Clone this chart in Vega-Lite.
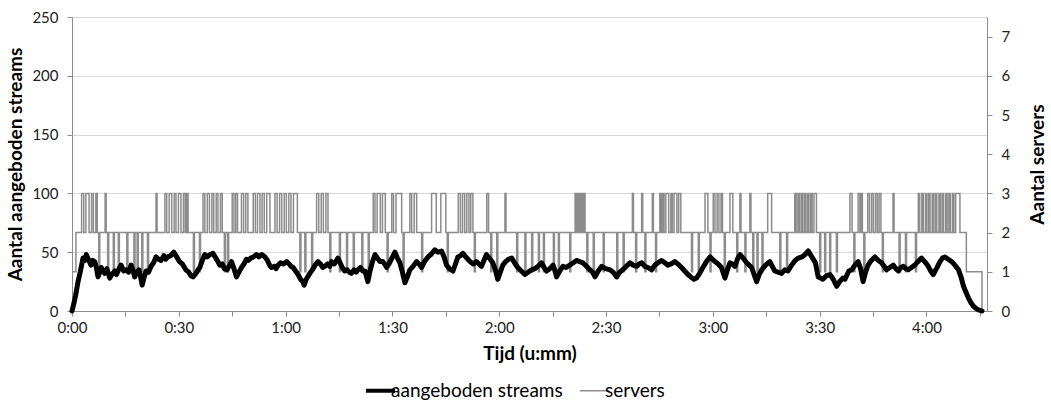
{
  "$schema": "https://vega.github.io/schema/vega-lite/v6.json",
  "width": 915,
  "height": 294,
  "autosize": {"type": "none"},
  "padding": {"left": 72, "top": 17, "right": 64, "bottom": 90},
  "background": "white",
  "config": {
    "font": "Lato",
    "view": {"stroke": null},
    "axis": {
      "labelFont": "Lato",
      "labelFontSize": 15,
      "labelColor": "#222222",
      "titleFont": "Lato",
      "titleFontSize": 19,
      "titleFontWeight": "bold",
      "titleColor": "#000000",
      "domainColor": "#8c8c8c",
      "tickColor": "#8c8c8c",
      "gridColor": "#d9d9d9",
      "tickSize": 5
    }
  },
  "datasets": {
    "streams": [
      {"t":0,"v":0},{"t":0.5,"v":6},{"t":1,"v":13},{"t":1.7,"v":25},{"t":2.3,"v":33},{"t":3.1,"v":45},{"t":3.6,"v":43},{"t":4,"v":48},{"t":4.6,"v":44},{"t":5.3,"v":39},{"t":5.8,"v":43},{"t":6.4,"v":42},{"t":6.9,"v":36},{"t":7.3,"v":29},{"t":7.8,"v":33},{"t":8.2,"v":37},{"t":8.7,"v":34},{"t":9.2,"v":32},{"t":9.8,"v":36},{"t":10.6,"v":28},{"t":11.2,"v":31},{"t":12,"v":34},{"t":12.5,"v":31},{"t":13.2,"v":36},{"t":13.8,"v":39},{"t":14.5,"v":34},{"t":15.2,"v":35},{"t":15.9,"v":33},{"t":16.6,"v":39},{"t":17.1,"v":35},{"t":17.6,"v":29},{"t":18.2,"v":33},{"t":18.8,"v":35},{"t":19.2,"v":30},{"t":19.7,"v":22},{"t":20.2,"v":28},{"t":20.8,"v":34},{"t":21.5,"v":33},{"t":22.2,"v":38},{"t":22.9,"v":41},{"t":23.6,"v":46},{"t":24.3,"v":44},{"t":25,"v":43},{"t":25.8,"v":47},{"t":26.3,"v":44},{"t":26.9,"v":46},{"t":27.7,"v":47},{"t":28.6,"v":50},{"t":29.4,"v":46},{"t":30.2,"v":42},{"t":31,"v":40},{"t":32,"v":35},{"t":32.8,"v":33},{"t":33.4,"v":30},{"t":34,"v":29},{"t":34.8,"v":32},{"t":35.4,"v":35},{"t":35.9,"v":37},{"t":36.6,"v":43},{"t":37.3,"v":48},{"t":38,"v":46},{"t":38.8,"v":48},{"t":39.6,"v":49},{"t":40.4,"v":45},{"t":41,"v":42},{"t":41.5,"v":39},{"t":42.2,"v":40},{"t":42.8,"v":36},{"t":43.5,"v":35},{"t":44.1,"v":38},{"t":44.8,"v":42},{"t":45.5,"v":36},{"t":46.2,"v":29},{"t":46.9,"v":33},{"t":47.6,"v":37},{"t":48.3,"v":40},{"t":49,"v":44},{"t":49.5,"v":43},{"t":50.2,"v":45},{"t":51,"v":46},{"t":51.8,"v":48},{"t":52.5,"v":46},{"t":53.3,"v":48},{"t":54.2,"v":46},{"t":54.9,"v":43},{"t":55.5,"v":39},{"t":56,"v":37},{"t":56.8,"v":38},{"t":57.3,"v":36},{"t":57.9,"v":39},{"t":58.6,"v":41},{"t":59.4,"v":40},{"t":60.3,"v":42},{"t":61,"v":40},{"t":61.5,"v":38},{"t":62.1,"v":37},{"t":62.8,"v":34},{"t":63.5,"v":31},{"t":64.2,"v":27},{"t":64.8,"v":25},{"t":65.2,"v":22},{"t":65.8,"v":27},{"t":66.8,"v":32},{"t":67.5,"v":35},{"t":68.3,"v":39},{"t":69.1,"v":42},{"t":69.8,"v":40},{"t":70.4,"v":37},{"t":71,"v":38},{"t":71.8,"v":40},{"t":72.4,"v":38},{"t":72.9,"v":42},{"t":73.7,"v":40},{"t":74.7,"v":45},{"t":75.3,"v":41},{"t":75.9,"v":37},{"t":76.6,"v":34},{"t":77.3,"v":35},{"t":77.9,"v":33},{"t":78.5,"v":32},{"t":79.2,"v":35},{"t":79.8,"v":33},{"t":80.3,"v":35},{"t":81,"v":37},{"t":81.7,"v":34},{"t":82.3,"v":34},{"t":83.1,"v":25},{"t":83.7,"v":34},{"t":84.4,"v":42},{"t":85.1,"v":48},{"t":85.8,"v":45},{"t":86.5,"v":42},{"t":87.3,"v":42},{"t":88,"v":39},{"t":88.4,"v":37},{"t":89,"v":40},{"t":89.7,"v":44},{"t":90.7,"v":50},{"t":91.4,"v":45},{"t":92.1,"v":41},{"t":92.8,"v":33},{"t":93.5,"v":24},{"t":94.2,"v":29},{"t":94.9,"v":35},{"t":95.8,"v":38},{"t":96.8,"v":42},{"t":97.5,"v":40},{"t":98.2,"v":37},{"t":99,"v":42},{"t":100,"v":46},{"t":100.8,"v":48},{"t":101.9,"v":52},{"t":102.8,"v":50},{"t":103.8,"v":51},{"t":104.5,"v":46},{"t":105.2,"v":39},{"t":106,"v":36},{"t":107,"v":34},{"t":107.7,"v":40},{"t":108.4,"v":46},{"t":109.1,"v":47},{"t":109.8,"v":49},{"t":110.6,"v":46},{"t":111.2,"v":44},{"t":111.8,"v":42},{"t":112.7,"v":40},{"t":113.6,"v":42},{"t":114.3,"v":40},{"t":115,"v":38},{"t":115.7,"v":43},{"t":116.4,"v":48},{"t":117.2,"v":45},{"t":118.2,"v":41},{"t":118.9,"v":35},{"t":119.6,"v":27},{"t":120.3,"v":33},{"t":121,"v":39},{"t":121.8,"v":42},{"t":122.6,"v":44},{"t":123.5,"v":45},{"t":124.3,"v":41},{"t":125.2,"v":37},{"t":126.2,"v":34},{"t":127.2,"v":31},{"t":128.1,"v":33},{"t":129.1,"v":35},{"t":130,"v":36},{"t":130.9,"v":38},{"t":131.9,"v":41},{"t":132.6,"v":37},{"t":133.3,"v":34},{"t":134.2,"v":36},{"t":135.1,"v":39},{"t":135.6,"v":35},{"t":136.1,"v":29},{"t":137,"v":34},{"t":137.9,"v":38},{"t":138.8,"v":37},{"t":139.8,"v":39},{"t":140.8,"v":41},{"t":141.7,"v":43},{"t":142.6,"v":42},{"t":143.5,"v":41},{"t":144.5,"v":38},{"t":145.5,"v":35},{"t":146.2,"v":33},{"t":146.9,"v":29},{"t":147.8,"v":34},{"t":148.8,"v":38},{"t":149.9,"v":36},{"t":151.1,"v":35},{"t":152,"v":33},{"t":153,"v":29},{"t":153.8,"v":33},{"t":154.7,"v":35},{"t":155.7,"v":38},{"t":156.7,"v":41},{"t":157.6,"v":39},{"t":158.6,"v":38},{"t":159.3,"v":40},{"t":160,"v":41},{"t":160.9,"v":38},{"t":161.8,"v":37},{"t":162.8,"v":35},{"t":163.7,"v":39},{"t":164.6,"v":41},{"t":165.6,"v":43},{"t":166.5,"v":41},{"t":167.4,"v":39},{"t":168.3,"v":40},{"t":169.3,"v":42},{"t":170.2,"v":40},{"t":171.2,"v":37},{"t":172.1,"v":34},{"t":173,"v":31},{"t":173.8,"v":29},{"t":174.7,"v":27},{"t":175.4,"v":28},{"t":176.3,"v":32},{"t":177.2,"v":37},{"t":178.2,"v":42},{"t":179.2,"v":46},{"t":179.9,"v":44},{"t":180.6,"v":42},{"t":181.5,"v":40},{"t":182.4,"v":37},{"t":183.4,"v":28},{"t":184.1,"v":35},{"t":184.8,"v":41},{"t":185.5,"v":40},{"t":186.2,"v":38},{"t":186.9,"v":44},{"t":187.6,"v":48},{"t":188.5,"v":45},{"t":189.5,"v":41},{"t":190.2,"v":39},{"t":190.9,"v":37},{"t":191.6,"v":31},{"t":192.3,"v":25},{"t":193,"v":31},{"t":193.7,"v":35},{"t":194.8,"v":39},{"t":196,"v":42},{"t":196.7,"v":38},{"t":197.4,"v":34},{"t":198.3,"v":33},{"t":199.3,"v":32},{"t":200.2,"v":35},{"t":201.1,"v":34},{"t":202.1,"v":39},{"t":203.1,"v":43},{"t":204,"v":45},{"t":205,"v":46},{"t":205.9,"v":48},{"t":206.8,"v":51},{"t":207.8,"v":46},{"t":208.8,"v":41},{"t":209.6,"v":29},{"t":210.3,"v":28},{"t":210.9,"v":27},{"t":211.9,"v":30},{"t":212.9,"v":31},{"t":213.8,"v":27},{"t":214.8,"v":21},{"t":215.6,"v":25},{"t":216.5,"v":28},{"t":217.1,"v":27},{"t":218.2,"v":34},{"t":219,"v":35},{"t":219.9,"v":39},{"t":220.8,"v":42},{"t":221.5,"v":36},{"t":222.2,"v":25},{"t":222.9,"v":33},{"t":223.6,"v":39},{"t":224.5,"v":43},{"t":225.5,"v":46},{"t":226.5,"v":43},{"t":227.4,"v":41},{"t":228.1,"v":38},{"t":228.8,"v":35},{"t":229.7,"v":37},{"t":230.7,"v":39},{"t":231.4,"v":36},{"t":232.1,"v":34},{"t":232.8,"v":37},{"t":233.5,"v":38},{"t":234.2,"v":36},{"t":234.9,"v":35},{"t":235.8,"v":37},{"t":236.7,"v":39},{"t":237.6,"v":42},{"t":238.6,"v":45},{"t":239.5,"v":42},{"t":240.5,"v":38},{"t":241.2,"v":34},{"t":241.9,"v":31},{"t":242.8,"v":36},{"t":243.8,"v":42},{"t":244.5,"v":45},{"t":245.2,"v":46},{"t":246.1,"v":44},{"t":247.1,"v":42},{"t":248,"v":39},{"t":249,"v":35},{"t":249.7,"v":29},{"t":250.4,"v":21},{"t":251.1,"v":16},{"t":251.8,"v":11},{"t":252.5,"v":7},{"t":253.2,"v":4},{"t":254,"v":2},{"t":254.6,"v":1},{"t":255.6,"v":0}
    ],
    "servers": [
      {"t":0,"s":1},{"t":1.1,"s":2},{"t":2.7,"s":3},{"t":3.3,"s":2},{"t":3.9,"s":3},{"t":4.8,"s":2},{"t":5.5,"s":3},{"t":6.0,"s":2},{"t":6.7,"s":3},{"t":7.1,"s":2},{"t":7.5,"s":1},{"t":7.8,"s":2},
      {"t":9.3,"s":3},{"t":9.6,"s":2},{"t":10.0,"s":1},{"t":10.3,"s":2},{"t":11.6,"s":1},{"t":11.9,"s":2},{"t":13,"s":1},{"t":13.3,"s":2},{"t":15.4,"s":1},{"t":15.7,"s":2},{"t":17.4,"s":1},{"t":17.7,"s":2},{"t":18.3,"s":1},{"t":18.6,"s":2},{"t":19.6,"s":1},{"t":19.9,"s":2},{"t":21.2,"s":1},{"t":21.5,"s":2},
      {"t":23.6,"s":3},{"t":23.9,"s":2},
      {"t":26.1,"s":3},{"t":26.6,"s":2},{"t":27.3,"s":3},{"t":28.0,"s":2},{"t":28.7,"s":3},{"t":29.2,"s":2},{"t":29.9,"s":3},{"t":30.6,"s":2},{"t":31.3,"s":3},{"t":31.8,"s":2},{"t":32.2,"s":3},{"t":32.6,"s":2},
      {"t":34.1,"s":1},{"t":34.4,"s":2},{"t":35.8,"s":1},{"t":36.1,"s":2},
      {"t":36.8,"s":3},{"t":37.3,"s":2},{"t":38.0,"s":3},{"t":38.6,"s":2},{"t":39.3,"s":3},{"t":39.8,"s":2},{"t":40.5,"s":3},{"t":41.0,"s":2},{"t":41.7,"s":3},{"t":42.2,"s":2},{"t":42.8,"s":1},{"t":43.1,"s":2},{"t":43.7,"s":1},{"t":44.0,"s":2},
      {"t":45,"s":3},{"t":45.5,"s":2},{"t":46.0,"s":3},{"t":46.5,"s":2},
      {"t":47.6,"s":3},{"t":48.2,"s":2},{"t":48.8,"s":3},{"t":49.4,"s":2},
      {"t":50.9,"s":3},{"t":51.5,"s":2},{"t":52.1,"s":3},{"t":52.8,"s":2},{"t":53.4,"s":3},{"t":54.0,"s":2},{"t":54.7,"s":3},{"t":55.6,"s":2},
      {"t":57,"s":3},{"t":57.6,"s":2},{"t":58.3,"s":3},{"t":58.9,"s":2},{"t":59.6,"s":3},{"t":60.2,"s":2},{"t":60.9,"s":3},{"t":61.5,"s":2},{"t":62.2,"s":3},{"t":63.3,"s":2},
      {"t":64,"s":1},{"t":64.3,"s":2},{"t":65.4,"s":1},{"t":65.7,"s":2},{"t":67.3,"s":1},{"t":67.6,"s":2},
      {"t":68.7,"s":3},{"t":69.3,"s":2},{"t":70.0,"s":3},{"t":70.6,"s":2},{"t":71.3,"s":3},{"t":71.9,"s":2},
      {"t":72.4,"s":1},{"t":72.7,"s":2},{"t":75.1,"s":1},{"t":75.4,"s":2},{"t":77.1,"s":1},{"t":77.4,"s":2},{"t":79.0,"s":1},{"t":79.3,"s":2},{"t":81.4,"s":1},{"t":81.7,"s":2},{"t":83.2,"s":1},{"t":83.5,"s":2},
      {"t":84.6,"s":3},{"t":85.1,"s":2},{"t":85.7,"s":3},{"t":86.6,"s":2},{"t":87.2,"s":3},{"t":88.0,"s":2},{"t":88.5,"s":1},{"t":88.8,"s":2},
      {"t":89.8,"s":3},{"t":90.3,"s":2},{"t":91.0,"s":3},{"t":92.6,"s":2},{"t":93.0,"s":1},{"t":93.3,"s":2},
      {"t":94.9,"s":3},{"t":95.4,"s":2},{"t":96.1,"s":3},{"t":96.8,"s":2},{"t":98.2,"s":1},{"t":98.5,"s":2},
      {"t":101,"s":3},{"t":102.3,"s":2},{"t":103.6,"s":3},{"t":105.0,"s":2},{"t":105.4,"s":1},{"t":105.7,"s":2},
      {"t":108.5,"s":3},{"t":109.1,"s":2},{"t":109.7,"s":3},{"t":110.3,"s":2},{"t":110.9,"s":3},{"t":111.5,"s":2},{"t":112.0,"s":3},{"t":112.6,"s":2},{"t":113.0,"s":1},{"t":113.3,"s":2},
      {"t":116.5,"s":3},{"t":117.0,"s":2},{"t":117.6,"s":1},{"t":117.9,"s":2},{"t":119.3,"s":1},{"t":119.6,"s":2},
      {"t":121.6,"s":3},{"t":121.9,"s":2},{"t":124.9,"s":1},{"t":125.2,"s":2},{"t":127.2,"s":1},{"t":127.5,"s":2},{"t":129.1,"s":1},{"t":129.4,"s":2},{"t":131,"s":1},{"t":131.3,"s":2},{"t":132.4,"s":1},{"t":132.7,"s":2},{"t":135.2,"s":1},{"t":135.5,"s":2},{"t":136.6,"s":1},{"t":136.9,"s":2},{"t":139.8,"s":1},{"t":140.1,"s":2},
      {"t":141.3,"s":3},{"t":141.7,"s":2},{"t":142.1,"s":3},{"t":142.5,"s":2},{"t":142.9,"s":3},{"t":143.3,"s":2},{"t":143.7,"s":3},{"t":144.1,"s":2},
      {"t":144.6,"s":1},{"t":144.9,"s":2},{"t":146.4,"s":1},{"t":146.7,"s":2},{"t":149.2,"s":1},{"t":149.5,"s":2},{"t":153,"s":1},{"t":153.3,"s":2},{"t":154.8,"s":1},{"t":155.1,"s":2},
      {"t":157.4,"s":3},{"t":157.7,"s":2},{"t":158.3,"s":1},{"t":158.6,"s":2},{"t":160,"s":3},{"t":160.3,"s":2},{"t":160.9,"s":1},{"t":161.2,"s":2},{"t":163.0,"s":3},{"t":163.3,"s":2},{"t":163.9,"s":1},{"t":164.2,"s":2},
      {"t":165.1,"s":3},{"t":165.5,"s":2},{"t":165.9,"s":3},{"t":166.3,"s":2},{"t":166.8,"s":3},{"t":167.6,"s":2},{"t":168.2,"s":3},{"t":168.6,"s":2},{"t":169.1,"s":3},{"t":169.9,"s":2},{"t":170.4,"s":3},{"t":171.0,"s":2},
      {"t":174,"s":1},{"t":174.3,"s":2},{"t":175.9,"s":1},{"t":176.2,"s":2},{"t":177.8,"s":3},{"t":178.6,"s":2},{"t":179.2,"s":1},{"t":179.5,"s":2},
      {"t":180.1,"s":3},{"t":180.6,"s":2},{"t":181.2,"s":3},{"t":181.7,"s":2},{"t":182.3,"s":3},{"t":182.7,"s":2},{"t":183.2,"s":1},{"t":183.5,"s":2},
      {"t":184.8,"s":3},{"t":185.6,"s":2},{"t":186.7,"s":1},{"t":187.0,"s":2},{"t":187.6,"s":3},{"t":187.9,"s":2},{"t":189,"s":1},{"t":189.3,"s":2},{"t":190.4,"s":3},{"t":190.7,"s":2},{"t":191.2,"s":1},{"t":191.5,"s":2},{"t":192.4,"s":1},{"t":192.7,"s":2},{"t":193.8,"s":1},{"t":194.1,"s":2},
      {"t":195.4,"s":3},{"t":196.5,"s":2},{"t":198.8,"s":1},{"t":199.1,"s":2},{"t":200.7,"s":1},{"t":201.0,"s":2},
      {"t":203,"s":3},{"t":203.4,"s":2},{"t":203.9,"s":3},{"t":204.3,"s":2},{"t":204.8,"s":3},{"t":205.2,"s":2},{"t":205.7,"s":3},{"t":206.1,"s":2},{"t":206.6,"s":3},{"t":207.0,"s":2},{"t":207.5,"s":3},{"t":207.9,"s":2},{"t":208.4,"s":3},{"t":209.1,"s":2},
      {"t":210,"s":1},{"t":210.3,"s":2},{"t":211.4,"s":1},{"t":211.7,"s":2},{"t":212.8,"s":1},{"t":213.1,"s":2},{"t":214.7,"s":1},{"t":215.0,"s":2},
      {"t":218.5,"s":3},{"t":219.1,"s":2},{"t":219.6,"s":1},{"t":219.9,"s":2},{"t":220.8,"s":3},{"t":221.3,"s":2},{"t":221.7,"s":3},{"t":222.0,"s":2},{"t":222.4,"s":1},{"t":222.7,"s":2},
      {"t":223.5,"s":3},{"t":224.0,"s":2},{"t":224.6,"s":3},{"t":225.1,"s":2},{"t":225.7,"s":3},{"t":226.2,"s":2},{"t":226.7,"s":3},{"t":227.2,"s":2},{"t":227.6,"s":1},{"t":227.9,"s":2},
      {"t":230.6,"s":3},{"t":230.9,"s":2},{"t":232.3,"s":1},{"t":232.6,"s":2},{"t":234.1,"s":1},{"t":234.4,"s":2},{"t":236.9,"s":1},{"t":237.2,"s":2},
      {"t":237.7,"s":3},{"t":238.1,"s":2},{"t":238.7,"s":3},{"t":239.1,"s":2},{"t":239.7,"s":3},{"t":240.1,"s":2},{"t":240.6,"s":3},{"t":241.0,"s":2},{"t":241.6,"s":3},{"t":242.0,"s":2},{"t":242.5,"s":3},{"t":242.9,"s":2},{"t":243.5,"s":3},{"t":243.9,"s":2},{"t":244.4,"s":3},{"t":244.8,"s":2},{"t":245.4,"s":3},{"t":245.8,"s":2},{"t":246.3,"s":3},{"t":246.7,"s":2},{"t":247.3,"s":3},{"t":247.7,"s":2},{"t":248.2,"s":3},{"t":249.4,"s":2},
      {"t":251.2,"s":1},{"t":255.6,"s":0},{"t":256.2,"s":0}
    ]
  },
  "layer": [
    {
      "data": {"name": "servers"},
      "mark": {"type": "line", "interpolate": "step-after", "strokeWidth": 1.5},
      "encoding": {
        "x": {"field": "t", "type": "quantitative", "scale": {"domain": [0, 257], "nice": false, "zero": false}},
        "y": {
          "field": "s", "type": "quantitative",
          "scale": {"domain": [0, 7.5], "nice": false},
          "axis": {"orient": "right", "values": [0,1,2,3,4,5,6,7], "grid": false, "title": "Aantal servers", "labelPadding": 9, "titlePadding": 38, "titleAngle": 270, "titleBaseline": "bottom"}
        },
        "color": {"datum": "servers", "type": "nominal"}
      }
    },
    {
      "data": {"name": "streams"},
      "mark": {"type": "line", "strokeWidth": 5, "strokeJoin": "round", "strokeCap": "round"},
      "encoding": {
        "x": {
          "field": "t", "type": "quantitative",
          "scale": {"domain": [0, 257], "nice": false, "zero": false},
          "axis": {
            "title": "Tijd (u:mm)",
            "values": [0,15,30,45,60,75,90,105,120,135,150,165,180,195,210,225,240,255],
            "labelExpr": "datum.value % 30 == 0 ? floor(datum.value / 60) + ':' + (datum.value % 60 == 0 ? '00' : '30') : ''",
            "grid": false, "labelPadding": 4, "titlePadding": 9, "labelFlush": false
          }
        },
        "y": {
          "field": "v", "type": "quantitative",
          "scale": {"domain": [0, 250], "nice": false},
          "axis": {"orient": "left", "values": [0,50,100,150,200,250], "grid": true, "title": "Aantal aangeboden streams", "labelPadding": 9, "titlePadding": 6}
        },
        "color": {
          "datum": "aangeboden streams", "type": "nominal",
          "scale": {"domain": ["aangeboden streams", "servers"], "range": ["#000000", "#8c8c8c"]},
          "legend": {
            "title": null,
            "orient": "none",
            "legendX": 299,
            "legendY": 364,
            "direction": "horizontal",
            "symbolType": "stroke",
            "symbolSize": 841,
            "symbolStrokeWidth": 4,
            "labelFont": "Lato",
            "labelFontSize": 19,
            "labelLimit": 400,
            "labelColor": "#000000",
            "labelOffset": 1,
            "columnPadding": 14,
            "padding": 0,
            "encode": {"symbols": {"update": {"strokeWidth": {"signal": "datum.value === 'servers' ? 1.5 : 4"}}}}
          }
        }
      }
    }
  ],
  "resolve": {"scale": {"y": "independent"}}
}
